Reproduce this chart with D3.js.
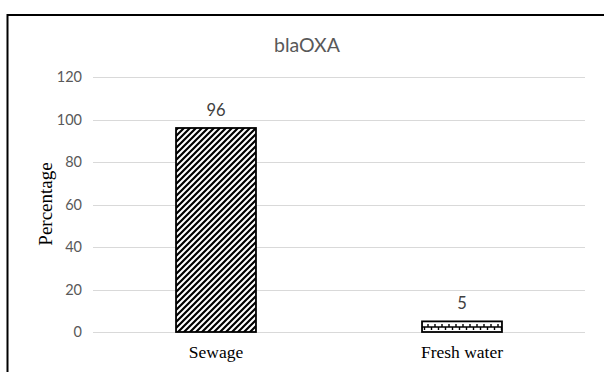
<!DOCTYPE html>
<html><head><meta charset="utf-8">
<script src="https://cdn.jsdelivr.net/npm/d3@7"></script>
<style>body{margin:0;background:#fff}svg{display:block}</style>
</head><body><svg id="c" width="604" height="372"></svg>
<script>
const categories = ["Sewage", "Fresh water"];
const values = [96, 5];
const yTicks = [0, 20, 40, 60, 80, 100, 120];
const title = "blaOXA";
const yLabel = "Percentage";

const svg = d3.select("#c");
const W = 604, H = 372;
const m = {left: 93, right: 19, top: 77, bottom: 40};
const x = d3.scaleBand().domain(categories).range([m.left, W - m.right]).paddingInner(0.675).paddingOuter(0.3375);
const y = d3.scaleLinear().domain([0, 120]).range([332, 77]);
const sans = "Lato, 'Open Sans', sans-serif";
const serif = "'Liberation Serif', 'Times New Roman', serif";

const defs = svg.append("defs");
const p1 = defs.append("pattern").attr("id","diag").attr("patternUnits","userSpaceOnUse").attr("width",6).attr("height",6);
p1.append("rect").attr("width",6).attr("height",6).attr("fill","#fff");
p1.append("path").attr("d","M-1,7 L7,-1 M-4,4 L4,-4 M2,10 L10,2").attr("stroke","#000").attr("stroke-width",2.2);
const p2 = defs.append("pattern").attr("id","shingle").attr("patternUnits","userSpaceOnUse").attr("width",7).attr("height",11).attr("y",322);
p2.append("rect").attr("width",7).attr("height",11).attr("fill","#fff");
p2.append("path").attr("d","M0,5 L7,5 M1,2 L1,5 M4.5,5 L4.5,8").attr("stroke","#000").attr("stroke-width",1.4).attr("fill","none");

// outer frame
svg.append("path").attr("d","M7.5,373 L7.5,15 L605,15").attr("fill","none").attr("stroke","#000").attr("stroke-width",2);

// gridlines
svg.append("g").selectAll("line").data(yTicks).join("line")
  .attr("x1", m.left).attr("x2", W - m.right)
  .attr("y1", d => Math.round(y(d)) + 0.5).attr("y2", d => Math.round(y(d)) + 0.5)
  .attr("stroke", "#d9d9d9").attr("stroke-width", 1);

// y axis labels
const ya = svg.append("g").attr("transform", `translate(${m.left - 11},0)`)
  .call(d3.axisLeft(y).tickValues(yTicks).tickSize(0).tickPadding(0));
ya.select(".domain").remove();
ya.selectAll("text").style("font-family",sans).style("font-size","14.5px").attr("fill","#595959");

// bars
const fills = ["url(#diag)", "url(#shingle)"];
svg.append("g").selectAll("rect").data(values).join("rect")
  .attr("x", (d,i) => x(categories[i]))
  .attr("y", d => y(d))
  .attr("width", x.bandwidth())
  .attr("height", d => y(0) - y(d))
  .attr("fill", (d,i) => fills[i])
  .attr("stroke", "#000").attr("stroke-width", 1.8);

// data labels
svg.append("g").selectAll("text").data(values).join("text")
  .attr("x", (d,i) => x(categories[i]) + x.bandwidth()/2)
  .attr("y", d => y(d) - 12)
  .attr("text-anchor","middle")
  .style("font-family",sans).style("font-size","16.5px").attr("fill","#404040")
  .text(d => d);

// x axis labels
const xa = svg.append("g").attr("transform", `translate(0,${y(0)})`)
  .call(d3.axisBottom(x).tickSize(0).tickPadding(14));
xa.select(".domain").remove();
xa.selectAll("text").style("font-family",serif).style("font-size","17.5px").attr("fill","#000");

// title
svg.append("text").attr("x", 307).attr("y", 52).attr("text-anchor","middle")
  .style("font-family",sans).style("font-size","19.5px").attr("fill","#595959").text(title);

// y label
svg.append("text").attr("transform","translate(52,204) rotate(-90)").attr("text-anchor","middle")
  .style("font-family",serif).style("font-size","19px").attr("fill","#000").text(yLabel);
</script></body></html>
